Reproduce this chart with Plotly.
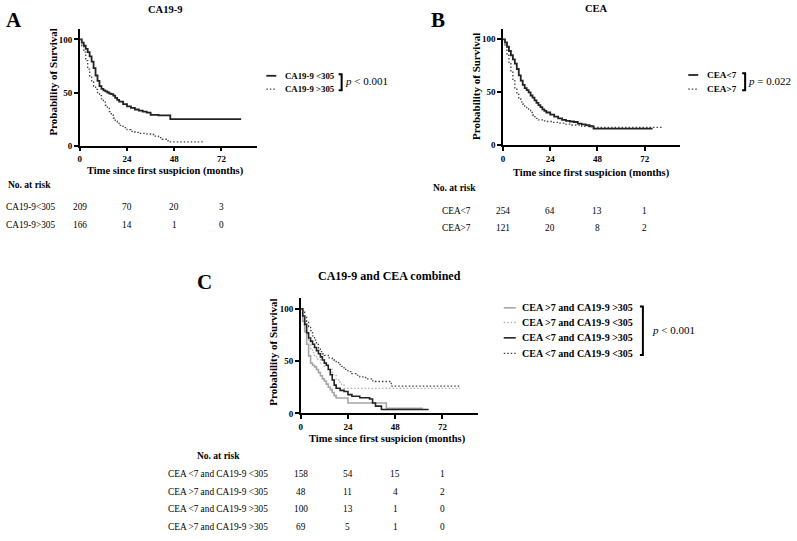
import plotly.graph_objects as go

W, H = 797, 541
FONT = "Liberation Serif"

# ---------------- data ----------------
# Panel A: CA19-9
a_lo_t = [0, 1, 2, 3, 4, 5, 6, 7, 8, 9, 10, 11, 12, 13, 14, 15, 16, 17, 18, 19, 20, 22, 24, 26, 28, 30, 32, 34, 36, 40, 44, 46, 82]
a_lo_s = [100, 97, 94, 91, 88, 84, 79, 73, 66, 61, 56, 53.5, 52, 51, 50, 49, 48.5, 47, 45, 43, 41.5, 39, 37, 35.5, 34, 33, 32, 31, 29, 28.5, 28.5, 25, 25]
a_hi_t = [0, 1, 2, 3, 4, 5, 6, 7, 8, 9, 10, 11, 12, 13, 14, 15, 16, 17, 18, 19, 20, 22, 24, 26, 28, 30, 34, 36, 38, 40, 42, 44, 45, 63]
a_hi_s = [100, 94, 88, 80, 72, 65, 60, 56, 53, 50, 47, 44, 41, 38, 35, 32, 29, 26, 23, 21, 19, 17, 15, 13.5, 12.5, 11.5, 11, 10.5, 9, 7.5, 6, 4.5, 3.5, 3.5]

# Panel B: CEA
b_lo_t = [0, 1, 2, 3, 4, 5, 6, 7, 8, 9, 10, 11, 12, 13, 14, 15, 16, 17, 18, 19, 20, 21, 22, 24, 26, 28, 30, 32, 34, 36, 38, 40, 42, 44, 46, 76]
b_lo_s = [100, 97, 93, 89, 85, 81, 77, 72, 66, 61, 57, 54, 52, 50, 47, 45, 42.5, 40, 38, 36, 34, 32.5, 31, 29, 27, 25.5, 24, 23, 22.5, 22, 20.5, 19.7, 19, 18, 15.7, 15.7]
b_hi_t = [0, 1, 2, 3, 4, 5, 6, 7, 8, 9, 10, 11, 12, 13, 14, 15, 16, 17, 18, 20, 22, 25, 28, 32, 35, 40, 45, 81]
b_hi_s = [100, 93, 85, 77, 69, 61, 53, 48, 44, 41, 39, 37, 35, 33, 31, 28.6, 27, 25.5, 24, 23, 22.5, 21.7, 21, 20, 19.2, 18, 17, 17]

# Panel C: combined
c_names = ["CEA >7 and CA19-9 >305", "CEA >7 and CA19-9 <305",
           "CEA <7 and CA19-9 >305", "CEA <7 and CA19-9 <305"]
c1_t = [0, 1, 2, 3, 4, 5, 6, 7, 8, 9, 10, 11, 12, 13, 14, 15, 16, 17, 18, 22, 24, 36, 43.5, 62]
c1_s = [100, 88, 78, 66, 55, 48, 46, 44.5, 42, 39, 36, 33, 31, 28, 25, 22.7, 20, 17, 14.8, 14.8, 10, 10, 5, 5]
c2_t = [0, 1, 2, 3, 4, 5, 6, 7, 8, 10, 12, 14, 16, 18, 20, 22, 81]
c2_s = [100, 93, 85, 76, 68, 62, 58, 55, 52, 48, 45, 42, 37, 32, 28, 24, 24]
c3_t = [0, 1, 2, 3, 4, 5, 6, 7, 8, 9, 10, 11, 12, 13, 14, 15, 16, 17, 18, 20, 22, 24, 26, 30, 35, 36.5, 38, 41, 65]
c3_s = [100, 93, 85, 77, 72, 69, 66, 63, 60, 57, 54, 51, 48, 46, 42, 37, 32, 27, 24, 22, 21, 18, 16.4, 15, 13.8, 10, 7, 3.8, 3.8]
c4_t = [0, 1, 2, 3, 4, 5, 6, 7, 8, 9, 10, 11, 12, 14, 16, 18, 20, 22, 24, 26, 28, 30, 33, 36, 38, 44, 46, 81]
c4_s = [100, 97, 93, 88, 83, 79, 74, 70, 66, 62, 59, 57, 55.5, 53, 51, 48.5, 45, 42, 40, 38, 36.5, 35, 33, 31, 30.5, 30.5, 26, 26]

# Tick labels / risk tables
x_ticks = [0, 24, 48, 72]
y_ticks = [0, 50, 100]
a_names = ["CA19-9 <305", "CA19-9 >305"]
b_names = ["CEA<7", "CEA>7"]
a_risk_labels = ["CA19-9<305", "CA19-9>305"]
a_risk = [[209, 70, 20, 3], [166, 14, 1, 0]]
b_risk_labels = ["CEA<7", "CEA>7"]
b_risk = [[254, 64, 13, 1], [121, 20, 8, 2]]
c_risk_labels = ["CEA <7 and CA19-9 <305", "CEA >7 and CA19-9 <305",
                 "CEA <7 and CA19-9 >305", "CEA >7 and CA19-9 >305"]
c_risk = [[158, 54, 15, 1], [48, 11, 4, 2], [100, 13, 1, 0], [69, 5, 1, 0]]
p_texts = ["p < 0.001", "p = 0.022", "p < 0.001"]

# ---------------- helpers ----------------
def X(px):
    return px / W

def Y(py):
    return 1 - py / H

def esc(s):
    return s.replace("&", "&amp;").replace("<", "&lt;").replace(">", "&gt;")

def ptxt(s):
    return "<i>p</i>" + esc(s[1:])

DARK = "#222222"
DOT_DARK = "#444444"
GREY = "#a6a6a6"
DOT_LIGHT = "#b0b0b0"
DOTDASH = "1.5px,2px"

styles_ab = [dict(color=DARK, width=1.8), dict(color=DOT_DARK, width=1.3, dash=DOTDASH)]
styles_c = [dict(color=GREY, width=1.6), dict(color=DOT_LIGHT, width=1.3, dash=DOTDASH),
            dict(color=DARK, width=1.6), dict(color=DOT_DARK, width=1.3, dash=DOTDASH)]

fig = go.Figure()

def add_curve(t, s, style, xa, ya):
    fig.add_trace(go.Scatter(x=t, y=s, mode="lines", line=dict(shape="hv", **style),
                             xaxis=xa, yaxis=ya, showlegend=False, hoverinfo="skip"))

add_curve(a_lo_t, a_lo_s, styles_ab[0], "x", "y")
add_curve(a_hi_t, a_hi_s, styles_ab[1], "x", "y")
add_curve(b_lo_t, b_lo_s, styles_ab[0], "x2", "y2")
add_curve(b_hi_t, b_hi_s, styles_ab[1], "x2", "y2")
for t, s, st in zip([c1_t, c2_t, c3_t, c4_t], [c1_s, c2_s, c3_s, c4_s], styles_c):
    add_curve(t, s, st, "x3", "y3")

def axis(domain, rng, ticks, anchor):
    return dict(domain=domain, range=rng, tickvals=ticks, ticktext=[str(v) for v in ticks],
                showline=True, linecolor="black", linewidth=1.5, ticks="outside",
                ticklen=4, tickwidth=1.5, tickcolor="black", showgrid=False,
                zeroline=False, anchor=anchor, fixedrange=True,
                tickfont=dict(family=FONT, size=9, color="black", weight="bold"))

fig.update_layout(
    width=W, height=H, margin=dict(l=0, r=0, t=0, b=0),
    paper_bgcolor="white", plot_bgcolor="white", showlegend=False,
    xaxis=axis([X(78), X(255.5)], [0, 90], x_ticks, "y"),
    yaxis=axis([Y(147), Y(29)], [0, 110], y_ticks, "x"),
    xaxis2=axis([X(502.3), X(679.8)], [0, 90], x_ticks, "y2"),
    yaxis2=axis([Y(146.7), Y(29)], [0, 110], y_ticks, "x2"),
    xaxis3=axis([X(299.5), X(477)], [0, 90], x_ticks, "y3"),
    yaxis3=axis([Y(417.3), Y(301)], [0, 110], y_ticks, "x3"),
)

ann = []
shapes = []
PAD = 3  # annotation box inset for left-anchored texts

def text(px, py, s, size, bold=False, anchor="center", angle=0, xref="paper", xval=None):
    if anchor == "left" and xval is None:
        px = px - PAD
    ann.append(dict(x=(X(px) if xval is None else xval), y=Y(py), xref=xref, yref="paper",
                    text=s, showarrow=False, xanchor=anchor, yanchor="middle", textangle=angle,
                    font=dict(family=FONT, size=size, color="black",
                              weight=("bold" if bold else "normal"))))

# panel letters and titles
text(11.7, 20, "A", 21, True)
text(436.7, 20, "B", 21, True)
text(203.3, 285, "C", 21, True)
text(163, 10, "CA19-9", 10.5, True)
text(595.7, 9, "CEA", 10.5, True)
text(388.3, 278.3, "CA19-9 and CEA combined", 12, True)

# axis titles
xt = "Time since first suspicion (months)"
text(164, 173, xt, 10.5, True)
text(591, 175, xt, 10.5, True)
text(386.7, 443.3, xt, 10.5, True)
yt = "Probability of Survival"
text(51.5, 83, yt, 11, True, angle=-90)
text(474.5, 87.5, yt, 11, True, angle=-90)
text(271.7, 356, yt, 11, True, angle=-90)

# legends
def legend(x0, x1, xtext, rows, names, styles, bx, by0, by1, ptx, pty, p, fsize):
    for py, name, st in zip(rows, names, styles):
        shapes.append(dict(type="line", xref="paper", yref="paper", x0=X(x0), x1=X(x1),
                           y0=Y(py), y1=Y(py),
                           line=dict(color=st["color"], width=st["width"],
                                     dash=st.get("dash", "solid"))))
        text(xtext, py, esc(name), fsize, True, anchor="left")
    shapes.append(dict(type="path", xref="paper", yref="paper",
                       path=f"M {X(bx-3)} {Y(by0)} L {X(bx)} {Y(by0)} L {X(bx)} {Y(by1)} L {X(bx-3)} {Y(by1)}",
                       line=dict(color="black", width=2)))
    text(ptx, pty, ptxt(p), 11, False, anchor="left")

legend(265, 275, 285, [76.5, 90], a_names, styles_ab, 340.5, 75, 91, 345, 82, p_texts[0], 8.8)
legend(688, 698, 708, [75.7, 90], b_names, styles_ab, 745, 74, 91, 749, 82, p_texts[1], 9.2)
legend(503, 515, 522.7, [310.7, 325.5, 341, 356.7], c_names, styles_c, 642.5, 309.3, 358.3, 653, 332.7, p_texts[2], 10)

# risk tables
def risk(label_px, head_px, head_py, head_anchor, rows_py, labels, counts, xref):
    text(head_px, head_py, "No. at risk", 9.5, True, anchor=head_anchor)
    for py, lab, cnt in zip(rows_py, labels, counts):
        text(label_px, py, esc(lab), 9.3, anchor="left")
        for t, n in zip(x_ticks, cnt):
            text(0, py, str(n), 9.3, xref=xref, xval=t)

risk(5, 7, 186.7, "left", [209.3, 227.3], a_risk_labels, a_risk, "x")
risk(441.7, 433, 190, "left", [212.7, 230], b_risk_labels, b_risk, "x2")
risk(167.3, 216.7, 460, "center", [478.3, 496.7, 514, 532], c_risk_labels, c_risk, "x3")

fig.update_layout(annotations=ann, shapes=shapes)
fig.write_html("out.html", config={"displayModeBar": False},
               post_script="document.body.style.margin='0px';document.body.style.padding='0px';")
